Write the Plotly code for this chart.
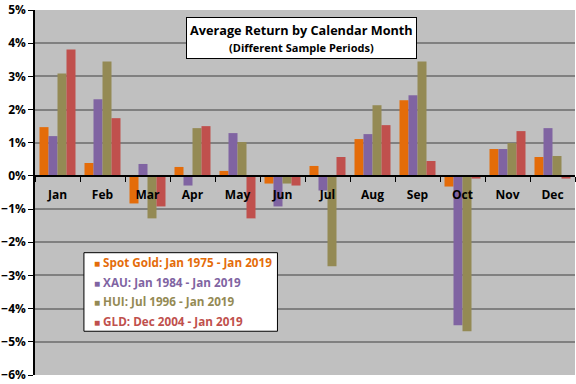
import plotly.graph_objects as go

months = ["Jan", "Feb", "Mar", "Apr", "May", "Jun", "Jul", "Aug", "Sep", "Oct", "Nov", "Dec"]
spot_gold = [1.47, 0.39, -0.83, 0.27, 0.15, -0.23, 0.30, 1.11, 2.28, -0.32, 0.81, 0.57]
xau = [1.20, 2.31, 0.36, -0.29, 1.29, -0.92, -0.44, 1.26, 2.43, -4.50, 0.81, 1.44]
hui = [3.09, 3.45, -1.28, 1.44, 1.02, -0.23, -2.72, 2.13, 3.45, -4.68, 0.99, 0.60]
gld = [3.81, 1.74, -0.92, 1.50, -1.28, -0.29, 0.57, 1.53, 0.45, -0.08, 1.35, -0.08]

series_names = ["Spot Gold: Jan 1975 - Jan 2019", "XAU: Jan 1984 - Jan 2019",
                "HUI: Jul 1996 - Jan 2019", "GLD: Dec 2004 - Jan 2019"]
series_values = [spot_gold, xau, hui, gld]
series_colors = ["#E46C0A", "#8064A2", "#948A54", "#C0504D"]

FONT = "Open Sans"

fig = go.Figure()
for name, vals, col in zip(series_names, series_values, series_colors):
    fig.add_trace(go.Bar(
        x=months, y=vals, name=name, showlegend=False,
        marker=dict(color=col, line=dict(width=0)),
    ))

# legend (drawn as text entries inside a framed box, matching the reference style)
leg_x0, leg_x1, leg_y0, leg_y1 = 0.0906, 0.449, 0.1199, 0.3351
entry_y = [0.3106, 0.2561, 0.2016, 0.1471]
annotations = []
for name, col, yy in zip(series_names, series_colors, entry_y):
    annotations.append(dict(
        text=f'<span style="font-size:10px">■</span> {name}',
        xref="paper", yref="paper", x=0.1054, y=yy,
        xanchor="left", yanchor="middle", showarrow=False,
        font=dict(family=FONT, size=11.7, color=col, weight="bold"),
    ))

annotations.append(dict(
    text="Average Return by Calendar Month<br><span style='font-size:11px'>(Different Sample Periods)</span>",
    xref="paper", yref="paper", x=0.4926, y=0.922,
    xanchor="center", yanchor="middle", showarrow=False,
    font=dict(family=FONT, size=12.7, color="black", weight="bold"),
    bgcolor="white", bordercolor="black", borderwidth=1, borderpad=3,
))

fig.update_layout(
    width=576, height=384,
    paper_bgcolor="white", plot_bgcolor="#C0C0C0",
    margin=dict(l=35, r=1, t=8, b=9),
    barmode="group", bargap=0.2, bargroupgap=0,
    font=dict(family=FONT, size=12, color="black", weight="bold"),
    showlegend=False,
    annotations=annotations,
    shapes=[dict(
        type="rect", xref="paper", yref="paper",
        x0=leg_x0, x1=leg_x1, y0=leg_y0, y1=leg_y1,
        fillcolor="white", line=dict(color="black", width=1), layer="above",
    )],
)

fig.update_yaxes(
    range=[-6, 5], dtick=1, ticksuffix="%",
    showgrid=True, gridcolor="#808080", gridwidth=1.5,
    zeroline=False,
    showline=True, linecolor="black", linewidth=1.5,
    ticks="outside", ticklen=5, tickcolor="black",
    ticklabeloverflow="allow",
    tickfont=dict(family=FONT, size=12, weight="bold"),
)
fig.update_xaxes(
    type="category", anchor="free", position=6 / 11,
    showline=True, linecolor="black", linewidth=1.5,
    ticks="outside", ticklen=5, tickcolor="black", tickson="boundaries",
    ticklabelstandoff=8,
    showgrid=False,
    tickfont=dict(family=FONT, size=12, weight="bold"),
)

fig.write_html("out.html", config={"displayModeBar": False},
               post_script="document.body.style.margin='0px';")
